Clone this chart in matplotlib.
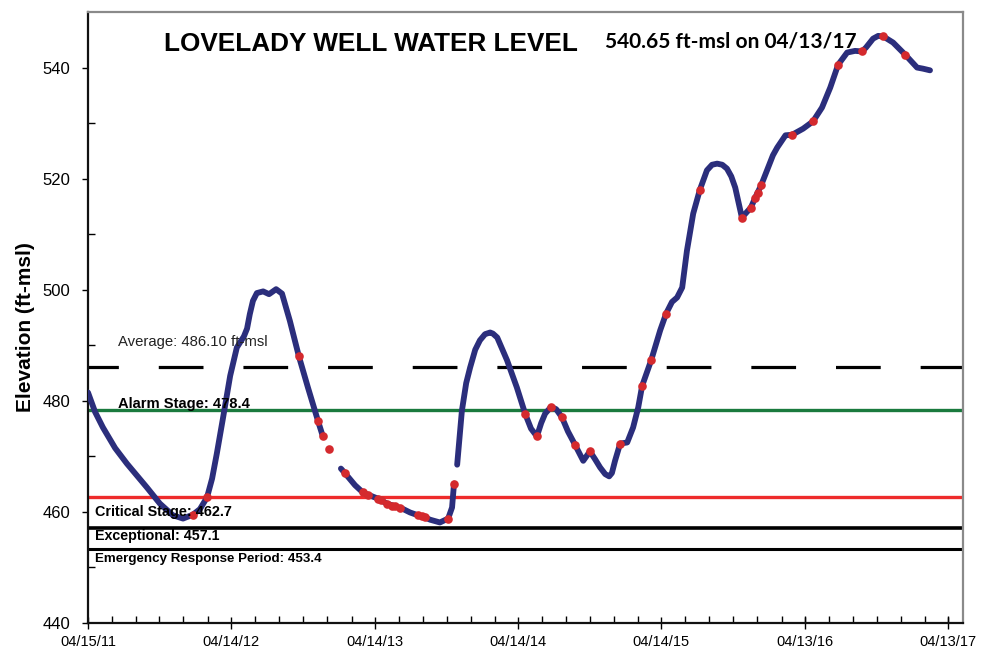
import matplotlib
matplotlib.use("Agg")
import matplotlib.pyplot as plt
import matplotlib.dates as mdates
import matplotlib.transforms as mtransforms
import numpy as np
import pandas as pd

plt.rcParams['font.family'] = ['Liberation Sans', 'DejaVu Sans']

# ---------------- data ----------------
# continuous well-level record (None marks a gap in the trace)
level_dates = [
    "2011-04-15", "2011-05-03", "2011-05-23", "2011-06-23", "2011-07-23", "2011-08-18",
    "2011-09-12", "2011-10-15", "2011-11-17", "2011-12-13", "2012-01-07", "2012-01-25",
    "2012-02-12", "2012-02-25", "2012-03-08", "2012-03-24", "2012-04-11", "2012-04-28",
    "2012-05-16", "2012-05-24", "2012-05-31", "2012-06-08", "2012-06-18", "2012-07-04",
    "2012-07-19", "2012-08-06", "2012-08-21", "2012-09-10", "2012-10-03", "2012-10-26",
    "2012-11-21", "2012-12-03",
    "2012-12-10",
    "2013-01-18", "2013-01-28", "2013-02-23", "2013-03-15", "2013-03-28", "2013-04-22",
    "2013-05-15", "2013-06-05", "2013-06-23", "2013-07-13", "2013-08-02", "2013-08-20",
    "2013-09-02", "2013-09-27", "2013-10-18", "2013-10-28", "2013-11-02",
    "2013-11-05",
    "2013-11-10", "2013-11-22", "2013-12-03", "2013-12-13", "2013-12-26", "2014-01-07",
    "2014-01-20", "2014-02-02", "2014-02-09", "2014-02-20",
    "2014-03-17", "2014-04-11", "2014-05-02", "2014-05-17", "2014-06-01", "2014-06-12",
    "2014-06-22", "2014-07-07", "2014-07-20", "2014-08-04", "2014-08-19", "2014-09-06",
    "2014-09-27", "2014-10-14", "2014-10-27", "2014-11-09", "2014-11-22", "2014-12-02",
    "2014-12-09", "2014-12-17", "2014-12-30", "2015-01-17", "2015-02-01", "2015-02-14",
    "2015-02-24", "2015-03-19", "2015-04-11", "2015-04-26", "2015-05-11", "2015-05-24",
    "2015-06-06", "2015-06-18", "2015-07-04", "2015-07-21", "2015-08-08", "2015-08-21",
    "2015-09-03", "2015-09-16", "2015-09-28", "2015-10-09", "2015-10-19", "2015-11-05",
    "2015-11-28", "2015-12-09", "2015-12-24",
    "2016-01-08", "2016-01-23", "2016-02-03", "2016-02-24", "2016-03-12", "2016-04-09",
    "2016-05-04", "2016-05-27", "2016-06-17", "2016-07-07", "2016-07-30", "2016-08-19",
    "2016-09-06", "2016-09-16", "2016-10-04", "2016-10-17", "2016-10-30", "2016-11-24",
    "2016-12-25", "2017-01-24", "2017-02-08", "2017-02-26",
]
level_values = [
    481.5, 478.0, 475.2, 471.5, 468.7, 466.5,
    464.4, 461.5, 459.4, 458.8, 459.5, 460.5,
    462.6, 466.0, 470.5, 477.0, 484.5, 489.6,
    491.6, 493.0, 495.6, 498.0, 499.4, 499.7,
    499.2, 500.1, 499.3, 494.4, 488.0, 482.4,
    476.3, 473.6,
    None,
    467.8, 467.0, 464.8, 463.5, 463.1, 462.4,
    461.5, 461.0, 460.6, 459.9, 459.4, 459.0,
    458.6, 458.1, 458.8, 460.8, 465.1,
    None,
    468.5, 478.2, 483.2, 486.0, 489.2, 490.9,
    492.0, 492.3, 492.1, 491.4,
    487.3, 482.4, 477.7, 475.0, 473.6, 476.0,
    477.7, 478.9, 478.5, 477.0, 474.5, 472.1,
    469.2, 470.9, 469.5, 468.0, 466.8, 466.4,
    467.0, 469.2, 472.3, 472.5, 475.2, 478.8,
    482.7, 487.3, 492.7, 495.7, 497.8, 498.6,
    500.4, 507.0, 513.7, 518.0, 521.5, 522.5,
    522.7, 522.5, 521.8, 520.4, 518.4, 513.0,
    514.8, 516.6, 518.8,
    521.5, 524.2, 525.6, 527.8, 527.9, 529.0,
    530.3, 532.8, 536.4, 540.5, 542.7, 543.0,
    542.9, 543.6, 545.2, 545.7, 545.6, 544.5,
    542.3, 540.0, 539.8, 539.5,
]

# manual measurements (red dots)
manual_dates = [
    "2012-01-07", "2012-02-12", "2012-10-03", "2012-11-21", "2012-12-03", "2012-12-19",
    "2013-01-28", "2013-03-15", "2013-03-28", "2013-04-22", "2013-04-30", "2013-05-15",
    "2013-05-28", "2013-06-05", "2013-06-18", "2013-08-02", "2013-08-12", "2013-08-20",
    "2013-10-18", "2013-11-02", "2014-05-02", "2014-06-01", "2014-07-07", "2014-08-04",
    "2014-09-06", "2014-10-14", "2014-12-30", "2015-02-24", "2015-03-19", "2015-04-26",
    "2015-07-21", "2015-11-05", "2015-11-28", "2015-12-09", "2015-12-16", "2015-12-24",
    "2016-03-12", "2016-05-04", "2016-07-07", "2016-09-06", "2016-10-30", "2016-12-25",
]
manual_values = [
    459.5, 462.6, 488.0, 476.3, 473.6, 471.4,
    467.0, 463.5, 463.1, 462.4, 462.2, 461.5,
    461.1, 461.0, 460.7, 459.4, 459.2, 459.0,
    458.8, 465.1, 477.7, 473.6, 478.9, 477.0,
    472.1, 470.9, 472.3, 482.7, 487.3, 495.7,
    518.0, 513.0, 514.8, 516.6, 517.5, 518.8,
    527.9, 530.3, 540.5, 542.9, 545.6, 542.3,
]

average_level = 486.10
stage_levels = [478.4, 462.7, 457.1, 453.4]
stage_names = ["Alarm Stage", "Critical Stage", "Exceptional", "Emergency Response Period"]

tick_dates = ["2011-04-15", "2012-04-14", "2013-04-14", "2014-04-14",
              "2015-04-14", "2016-04-13", "2017-04-13"]
tick_labels = ["04/15/11", "04/14/12", "04/14/13", "04/14/14",
               "04/14/15", "04/13/16", "04/13/17"]

title_text = "LOVELADY WELL WATER LEVEL"
latest_text = "540.65 ft-msl on 04/13/17"

# ---------------- figure ----------------
fig = plt.figure(figsize=(10.02, 6.54), dpi=100)
ax = fig.add_axes([88 / 1002, 31 / 654, 875 / 1002, 611 / 654])

ld = pd.to_datetime(level_dates)
lv = np.array([np.nan if v is None else v for v in level_values], dtype=float)
md = pd.to_datetime(manual_dates)
mv = np.array(manual_values, dtype=float)

ax.set_xlim(pd.Timestamp("2011-04-15"), pd.Timestamp("2017-05-21"))
ax.set_ylim(440, 550)

# reference lines
ax.axhline(average_level, color="black", lw=2.3, linestyle=(4.5, (14, 12.5)), zorder=2)
stage_colors = ["#1a7a3e", "#ee2b2b", "black", "black"]
stage_lw = [2.4, 2.4, 2.6, 2.2]
for lvl, c, w in zip(stage_levels, stage_colors, stage_lw):
    ax.axhline(lvl, color=c, lw=w, zorder=2)

# data
ax.plot(ld, lv, color="#2b2e7c", lw=4.2, solid_capstyle="round",
        solid_joinstyle="round", zorder=3)
ax.plot(md, mv, "o", color="#d42a2e", ms=6.2, mec="none", zorder=4)

# text labels
trans = mtransforms.blended_transform_factory(ax.transAxes, ax.transData)
ax.text(0.034, 490.6, f"Average: {average_level:.2f} ft-msl", transform=trans,
        fontsize=10.7, color="#222222", va="center", ha="left", zorder=5)
label_pos = [(0.034, 479.5), (0.008, 460.0), (0.008, 455.6), (0.008, 451.5)]
label_sizes = [10.6, 10.4, 10.3, 9.6]
for (xp, yp), name, lvl, fs in zip(label_pos, stage_names, stage_levels, label_sizes):
    ax.text(xp, yp, f"{name}: {lvl:.1f}", transform=trans, fontsize=fs,
            fontweight="bold", va="center", ha="left", zorder=5)

ax.text(0.3234, 0.947, title_text, transform=ax.transAxes, fontsize=18.8,
        fontweight="bold", ha="center", va="center")
ax.text(0.591, 0.951, latest_text, transform=ax.transAxes, fontsize=15,
        fontweight="bold", ha="left", va="center", family=["Lato", "DejaVu Sans"])

ax.set_ylabel("Elevation (ft-msl)", fontsize=15, fontweight="bold")
ax.yaxis.set_label_coords(-0.061, 0.484)

# ticks
ax.set_xticks(pd.to_datetime(tick_dates))
ax.set_xticklabels(tick_labels, fontsize=10.5)
ax.xaxis.set_minor_locator(mdates.MonthLocator(bymonth=[2, 4, 6, 8, 10, 12], bymonthday=14))
ax.set_yticks(np.arange(440, 541, 20))
ax.set_yticks(np.arange(450, 550, 10), minor=True)
ax.tick_params(axis="y", which="major", labelsize=12, direction="out", length=4, width=1, pad=9)
ax.tick_params(axis="y", which="minor", direction="in", length=5, width=1)
ax.tick_params(axis="x", which="major", direction="inout", length=9, width=1, pad=4)
ax.tick_params(axis="x", which="minor", direction="in", length=5, width=1)

for s in ["left", "bottom"]:
    ax.spines[s].set_color("#111111")
    ax.spines[s].set_linewidth(1.6)
for s in ["top", "right"]:
    ax.spines[s].set_color("#8a8a8a")
    ax.spines[s].set_linewidth(1.6)

fig.savefig("out.png", dpi=100)
